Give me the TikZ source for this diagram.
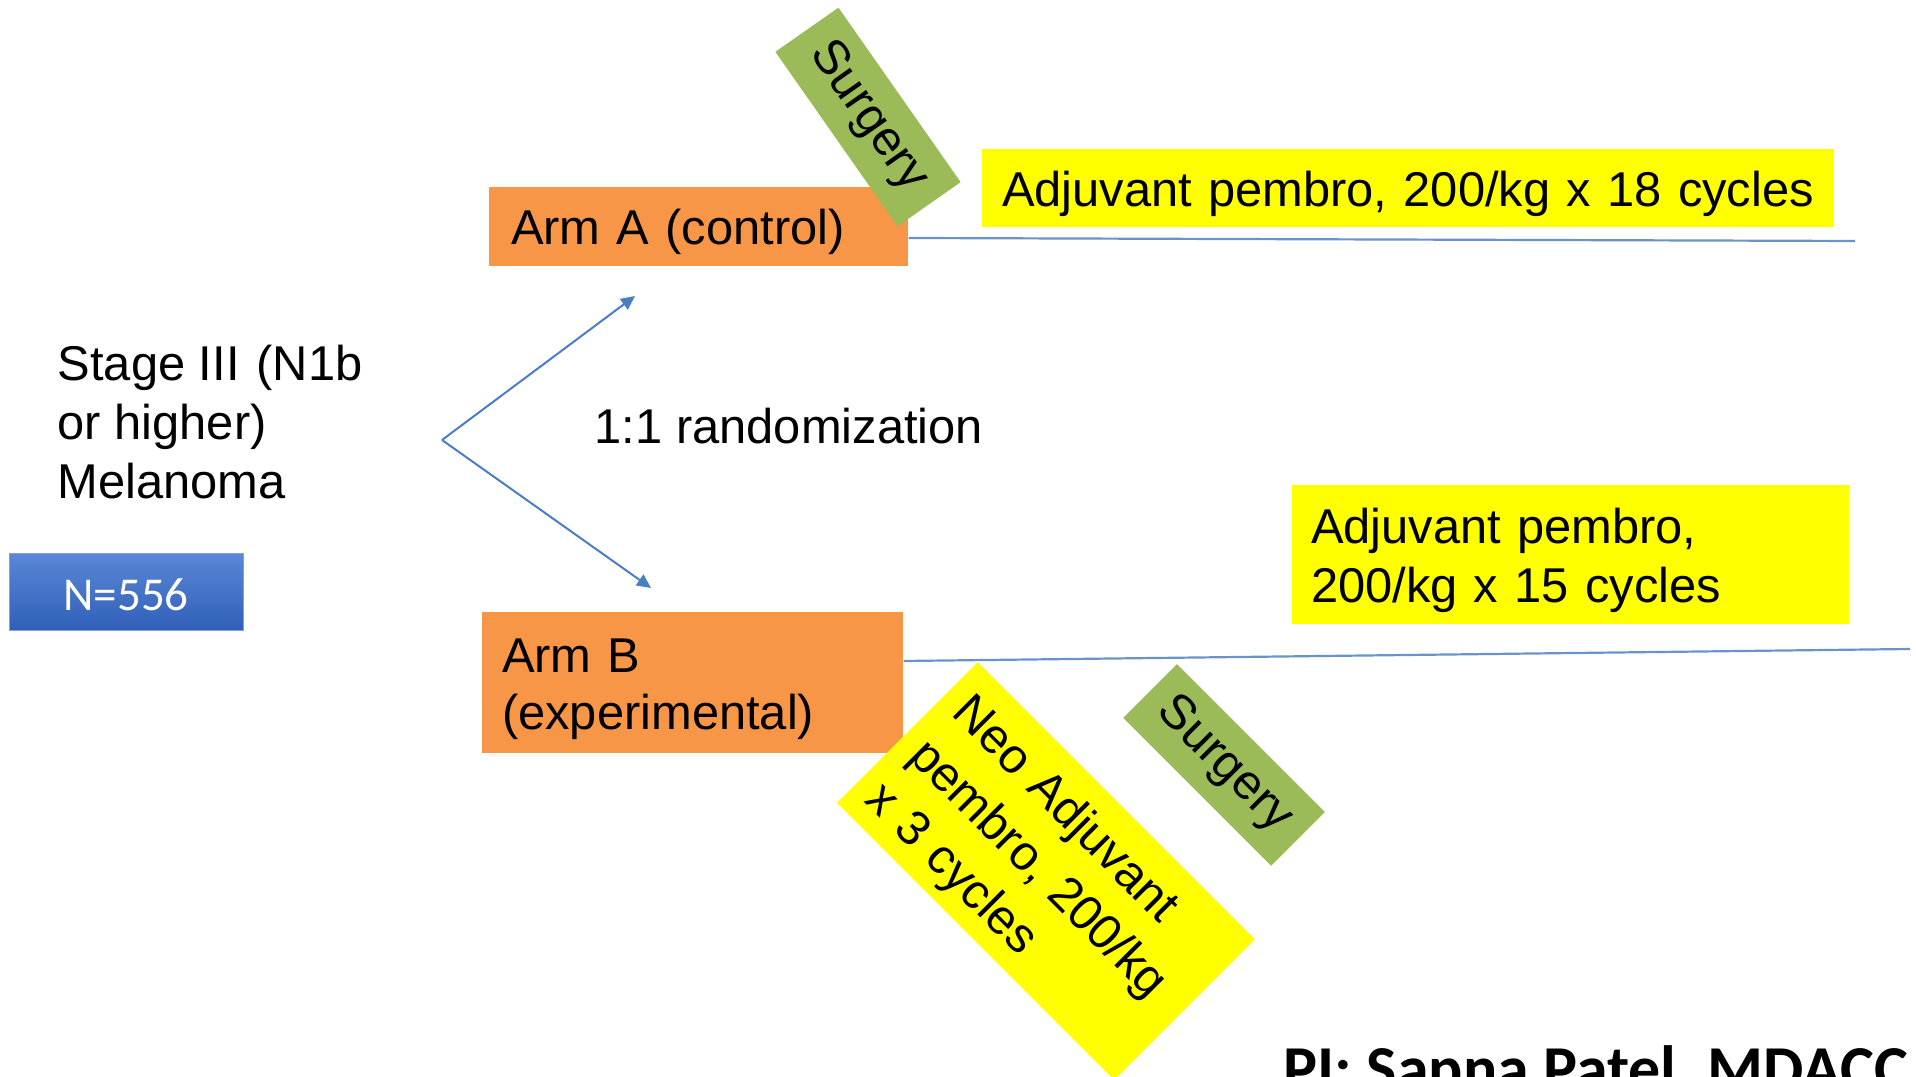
\documentclass[tikz,border=0pt]{standalone}
\usepackage{fontspec}
\setmainfont{Liberation Sans}
\newfontfamily\calibri{Carlito}
\usetikzlibrary{arrows.meta,positioning}
\definecolor{armorange}{HTML}{F79646}
\definecolor{surggreen}{HTML}{9BBB59}
\definecolor{pembroyellow}{HTML}{FFFF00}
\definecolor{linjeblue}{HTML}{6A93CC}
\definecolor{pilblue}{HTML}{4A7EC4}
\definecolor{ntop}{HTML}{5A87D6}
\definecolor{nbottom}{HTML}{2F5FB8}
\definecolor{nborder}{HTML}{7FA2DE}
\tikzset{
    %Define standard arrow tip
    >={Triangle[length=1.4mm,width=1.3mm]},
    %Define style for boxes
    armrect/.style={
           rectangle,
           fill=armorange,
           inner ysep=0pt,
           text height=4.7mm,
           align=left,
           font=\fontsize{13.9}{16.3}\selectfont},
    pembrorect/.style={
           rectangle,
           fill=pembroyellow,
           inner ysep=0pt,
           text height=4.7mm,
           align=left,
           font=\fontsize{13.9}{16.6}\selectfont},
    surgrect/.style={
           rectangle,
           fill=surggreen,
           inner sep=0pt,
           font=\fontsize{13.9}{16.6}\selectfont},
    plaintext/.style={
           inner sep=0pt,
           align=left,
           font=\fontsize{13.9}{16.8}\selectfont},
    % Define arrow style
    pil/.style={
           ->,
           draw=pilblue,
           line width=0.2mm},
    linje/.style={
           draw=linjeblue,
           line width=0.22mm}
}

\begin{document}
\begin{tikzpicture}[x=0.1mm,y=-0.1mm]
\useasboundingbox (0,0) rectangle (1916,1077);
\clip (0,0) rectangle (1916,1077);
 %nodes
\node[plaintext, anchor=west](stage) at (57,422){Stage III\hspace{0.35em}(N1b\\or higher)\\Melanoma};
\node[rectangle, top color=ntop, bottom color=nbottom, draw=nborder, line width=0.1mm,
      minimum width=23.4mm, minimum height=7.7mm, text height=3.6mm,
      text=white, font=\calibri\fontsize{13.4}{16}\selectfont](n) at (126,592.5){N=556};
\node[plaintext, anchor=west](rand) at (594,426){1:1 randomization};

\node[armrect, text width=37.5mm, inner xsep=2.2mm, minimum height=7.9mm](armA) at (698.5,226.5){Arm A (control)};
\node[armrect, text width=38.1mm, inner xsep=2mm, minimum height=14.1mm,
      font=\fontsize{13.9}{16.2}\selectfont](armB) at (692.5,682.5){Arm B\\(experimental)};

\node[pembrorect, text width=81.2mm, inner xsep=2mm, minimum height=7.8mm](adjA) at (1408,188){Adjuvant pembro, 200/kg x 18 cycles};
\node[pembrorect, text width=51.9mm, inner xsep=1.9mm, minimum height=13.9mm](adjB) at (1570.5,554.5){Adjuvant pembro,\\200/kg x 15 cycles};
\node[pembrorect, text width=35.6mm, inner xsep=1.8mm, minimum height=19.9mm, rotate=-45,
      font=\fontsize{13.9}{17.4}\selectfont](neo) at (1046,871){Neo Adjuvant\\pembro, 200/kg\\x 3 cycles};

\node[surgrect, minimum width=21.3mm, minimum height=7.7mm, rotate=-55](surgA) at (868,117){Surgery};
\node[surgrect, minimum width=20.9mm, minimum height=7.6mm, rotate=-45](surgB) at (1224,765){Surgery};

\node[anchor=base west, inner sep=0pt, font=\calibri\bfseries\fontsize{18.2}{20}\selectfont](pi) at (1283,1090){PI: Sapna Patel, MDACC};

 %randomization arrows
\coordinate (split) at (442,440);
\coordinate (tipA) at (635,296);
\coordinate (tipB) at (651,588);
\draw[pil] (split) -- (tipA);
\draw[pil] (split) -- (tipB);

 %time lines
\coordinate (endA) at (1855,241);
\coordinate (endB) at (1910,649);
\draw[linje] ([yshift=-1.15mm]armA.east) -- (endA);
\draw[linje] ([yshift=2.15mm]armB.east) -- (endB);
\end{tikzpicture}
\end{document}
